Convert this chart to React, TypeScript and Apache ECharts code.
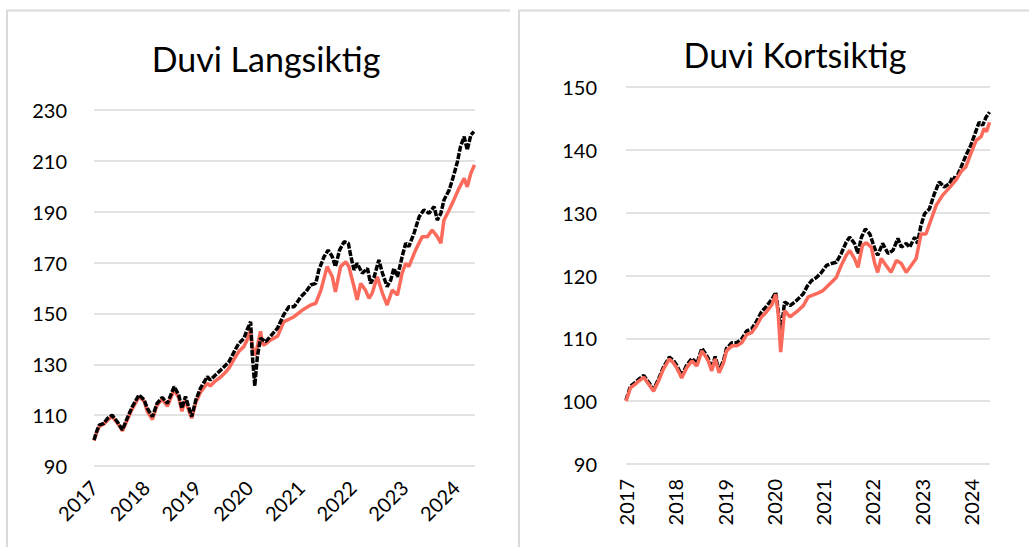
import React, { useEffect, useRef } from "react";
import * as echarts from "echarts";

// Decimal-year x values with index values.
const langBlack: [number, number][] = [
  [2017.0, 100.2], [2017.05, 103.5], [2017.1, 106.1], [2017.19, 106.8], [2017.26, 108.7], [2017.35, 110.0],
  [2017.45, 107.4], [2017.55, 104.2], [2017.64, 108.7], [2017.74, 113.3], [2017.87, 117.9], [2017.97, 116.0],
  [2018.03, 112.7], [2018.13, 109.4], [2018.22, 114.6], [2018.32, 117.0], [2018.42, 114.6], [2018.55, 121.2],
  [2018.64, 117.9], [2018.7, 112.7], [2018.77, 117.3], [2018.83, 113.3], [2018.89, 109.4], [2018.97, 116.0],
  [2019.06, 120.6], [2019.19, 125.1], [2019.25, 123.8], [2019.35, 125.8], [2019.45, 127.7], [2019.55, 129.7],
  [2019.61, 131.0], [2019.71, 134.9], [2019.8, 138.2], [2019.9, 140.2], [2019.96, 143.5], [2020.03, 146.7],
  [2020.06, 134.3], [2020.11, 121.5], [2020.16, 133.0], [2020.22, 140.2], [2020.32, 138.9], [2020.41, 140.9],
  [2020.55, 144.2], [2020.67, 149.5], [2020.77, 152.6], [2020.87, 152.6], [2021.0, 156.5], [2021.1, 158.5],
  [2021.19, 161.2], [2021.29, 161.8], [2021.35, 167.1], [2021.45, 172.3], [2021.53, 174.9], [2021.61, 172.3],
  [2021.67, 168.4], [2021.75, 174.9], [2021.84, 178.2], [2021.92, 177.6], [2021.97, 172.3], [2022.03, 167.1],
  [2022.09, 169.7], [2022.19, 165.8], [2022.29, 167.7], [2022.35, 161.8], [2022.42, 164.4], [2022.51, 171.0],
  [2022.58, 165.8], [2022.67, 160.5], [2022.74, 163.1], [2022.8, 167.7], [2022.87, 164.4], [2022.96, 172.3],
  [2023.03, 177.6], [2023.09, 176.3], [2023.19, 181.5], [2023.29, 188.0], [2023.38, 190.7], [2023.48, 189.4],
  [2023.58, 192.0], [2023.64, 186.7], [2023.71, 189.4], [2023.77, 194.6], [2023.87, 198.5], [2023.96, 204.4],
  [2024.03, 209.7], [2024.09, 215.6], [2024.16, 219.5], [2024.22, 214.3], [2024.29, 220.2], [2024.35, 221.5],
];

const langRed: [number, number][] = [
  [2017.0, 100.0], [2017.05, 103.0], [2017.1, 105.5], [2017.19, 106.5], [2017.26, 108.0], [2017.35, 109.5],
  [2017.45, 107.0], [2017.55, 103.8], [2017.64, 108.0], [2017.74, 112.5], [2017.87, 117.3], [2017.97, 115.5],
  [2018.03, 111.5], [2018.13, 108.3], [2018.22, 114.0], [2018.32, 116.3], [2018.42, 113.5], [2018.55, 120.0],
  [2018.64, 116.8], [2018.7, 111.5], [2018.77, 116.0], [2018.83, 112.0], [2018.89, 108.8], [2018.97, 115.0],
  [2019.06, 119.0], [2019.19, 122.5], [2019.25, 121.5], [2019.35, 123.5], [2019.45, 125.0], [2019.55, 127.0],
  [2019.61, 128.5], [2019.71, 132.0], [2019.8, 135.0], [2019.9, 137.0], [2019.96, 139.5], [2020.03, 143.5],
  [2020.06, 137.0], [2020.12, 133.5], [2020.17, 138.0], [2020.22, 143.0], [2020.27, 137.5], [2020.32, 138.0],
  [2020.41, 139.5], [2020.55, 141.0], [2020.67, 146.7], [2020.87, 148.7], [2021.03, 151.3], [2021.19, 153.3],
  [2021.29, 154.0], [2021.39, 159.2], [2021.51, 168.4], [2021.61, 164.4], [2021.67, 158.5], [2021.77, 168.4],
  [2021.87, 170.3], [2021.93, 168.4], [2022.03, 160.5], [2022.09, 155.3], [2022.16, 161.8], [2022.25, 159.2],
  [2022.32, 155.9], [2022.38, 157.9], [2022.48, 164.4], [2022.58, 157.9], [2022.67, 153.3], [2022.77, 159.2],
  [2022.87, 157.2], [2022.96, 165.8], [2023.03, 169.7], [2023.09, 168.4], [2023.22, 174.9], [2023.35, 180.2],
  [2023.45, 180.2], [2023.54, 182.8], [2023.64, 180.2], [2023.71, 177.6], [2023.77, 186.7], [2023.87, 190.7],
  [2023.96, 194.6], [2024.06, 199.2], [2024.16, 203.1], [2024.22, 199.8], [2024.29, 205.1], [2024.36, 208.4],
];

const kortBlack: [number, number][] = [
  [2017.0, 100.2], [2017.09, 102.4], [2017.19, 103.0], [2017.26, 103.5], [2017.36, 104.1], [2017.46, 103.0],
  [2017.56, 101.9], [2017.66, 103.5], [2017.76, 105.4], [2017.88, 107.0], [2017.96, 106.5], [2018.03, 105.7],
  [2018.13, 104.1], [2018.23, 105.7], [2018.34, 106.8], [2018.44, 106.0], [2018.54, 108.4], [2018.61, 107.6],
  [2018.67, 106.8], [2018.74, 105.2], [2018.81, 107.1], [2018.89, 104.9], [2018.98, 106.5], [2019.04, 108.4],
  [2019.15, 109.3], [2019.25, 109.3], [2019.35, 109.9], [2019.45, 111.2], [2019.55, 111.5], [2019.65, 112.7],
  [2019.75, 114.2], [2019.85, 115.1], [2019.96, 116.2], [2020.04, 117.3], [2020.09, 114.5], [2020.14, 110.5],
  [2020.22, 115.8], [2020.33, 115.2], [2020.46, 116.0], [2020.6, 117.1], [2020.68, 118.3], [2020.77, 119.2],
  [2020.87, 119.7], [2020.97, 120.5], [2021.07, 121.6], [2021.17, 121.9], [2021.27, 122.1], [2021.37, 123.5],
  [2021.47, 125.3], [2021.54, 126.1], [2021.64, 125.1], [2021.71, 123.5], [2021.78, 126.1], [2021.86, 127.4],
  [2021.95, 126.6], [2022.05, 124.3], [2022.11, 123.2], [2022.21, 125.1], [2022.32, 123.5], [2022.42, 124.0],
  [2022.52, 125.9], [2022.59, 124.5], [2022.69, 125.1], [2022.76, 124.5], [2022.86, 126.1], [2022.92, 125.1],
  [2022.98, 127.7], [2023.06, 129.8], [2023.16, 130.6], [2023.26, 133.0], [2023.36, 134.9], [2023.46, 134.1],
  [2023.57, 134.6], [2023.63, 135.7], [2023.7, 135.4], [2023.8, 137.2], [2023.9, 139.1], [2024.0, 140.7],
  [2024.11, 143.1], [2024.17, 144.4], [2024.24, 143.9], [2024.31, 145.2], [2024.38, 146.0],
];

const kortRed: [number, number][] = [
  [2017.0, 100.0], [2017.09, 102.1], [2017.19, 102.7], [2017.26, 103.2], [2017.36, 103.8], [2017.46, 102.7],
  [2017.56, 101.6], [2017.66, 103.2], [2017.76, 105.1], [2017.88, 106.7], [2017.96, 106.1], [2018.03, 105.3],
  [2018.13, 103.7], [2018.23, 105.3], [2018.34, 106.4], [2018.44, 105.6], [2018.54, 108.0], [2018.61, 107.2],
  [2018.67, 106.4], [2018.74, 104.8], [2018.81, 106.7], [2018.89, 104.5], [2018.98, 106.1], [2019.04, 108.0],
  [2019.15, 108.8], [2019.25, 108.8], [2019.35, 109.3], [2019.45, 110.6], [2019.55, 110.9], [2019.65, 112.0],
  [2019.75, 113.4], [2019.85, 114.2], [2019.96, 115.3], [2020.04, 117.0], [2020.09, 113.9], [2020.14, 107.8],
  [2020.22, 114.4], [2020.33, 113.4], [2020.46, 114.2], [2020.6, 115.2], [2020.7, 116.6], [2020.87, 117.1],
  [2021.0, 117.6], [2021.14, 118.7], [2021.27, 119.7], [2021.37, 121.6], [2021.47, 123.2], [2021.54, 124.0],
  [2021.64, 122.7], [2021.71, 121.3], [2021.8, 124.8], [2021.88, 125.2], [2021.98, 124.5], [2022.05, 121.9],
  [2022.11, 120.5], [2022.18, 122.7], [2022.28, 121.6], [2022.38, 120.5], [2022.49, 122.4], [2022.59, 121.9],
  [2022.69, 120.5], [2022.79, 121.6], [2022.89, 122.7], [2022.99, 126.6], [2023.09, 126.6], [2023.19, 128.8],
  [2023.3, 131.2], [2023.43, 132.8], [2023.56, 133.9], [2023.7, 135.2], [2023.8, 136.5], [2023.9, 137.3],
  [2024.0, 139.4], [2024.11, 141.5], [2024.21, 142.1], [2024.27, 143.4], [2024.32, 142.9], [2024.38, 144.4],
];

const titles = ["Duvi Langsiktig", "Duvi Kortsiktig"];
const langTicks = { min: 90, max: 230, interval: 20 };
const kortTicks = { min: 90, max: 150, interval: 10 };
const yearRange = { min: 2017, interval: 1 };

const FONT = "Lato, 'Open Sans', sans-serif";
const RED = "#FB6A5B";
const BLACK = "#000000";
const GRID = "#D9D9D9";

export default function App() {
  const ref = useRef<HTMLDivElement>(null);

  useEffect(() => {
    if (!ref.current) return;
    const chart = echarts.init(ref.current, undefined, { renderer: "svg" });

    const yearLabel = (v: number) => (Math.abs(v - Math.round(v)) < 1e-6 ? String(Math.round(v)) : "");

    const xBase = (gridIndex: number, max: number, rotate: number, margin: number) => ({
      type: "value",
      gridIndex,
      min: yearRange.min,
      max,
      interval: yearRange.interval,
      axisLine: { show: false },
      axisTick: { show: false },
      splitLine: { show: false },
      axisLabel: {
        rotate,
        margin,
        color: "#000",
        fontSize: 20,
        fontFamily: FONT,
        formatter: yearLabel,
        showMaxLabel: false,
      },
    });

    const yBase = (gridIndex: number, t: { min: number; max: number; interval: number }, margin: number) => ({
      type: "value",
      gridIndex,
      min: t.min,
      max: t.max,
      interval: t.interval,
      axisLine: { show: false },
      axisTick: { show: false },
      splitLine: { show: true, lineStyle: { color: GRID, width: 1.5 } },
      axisLabel: { margin, color: "#000", fontSize: 20, fontFamily: FONT },
    });

    const blackStyle = { color: BLACK, width: 3.5, type: [6, 1.5] as number[], cap: "butt" };
    const redStyle = { color: RED, width: 3.5, type: "solid" };

    chart.setOption({
      animation: false,
      backgroundColor: "#ffffff",
      grid: [
        { left: 94, top: 110, width: 381, height: 356 },
        { left: 626, top: 87, width: 364, height: 377 },
      ],
      xAxis: [xBase(0, 2024.37, 45, 18), xBase(1, 2024.39, 90, 15)],
      yAxis: [yBase(0, langTicks, 27), yBase(1, kortTicks, 29)],
      graphic: [
        {
          type: "polyline",
          shape: { points: [[7, 600], [7, 10.5], [510, 10.5]] },
          style: { stroke: GRID, lineWidth: 2, fill: "none" },
          z: 0,
        },
        {
          type: "polyline",
          shape: { points: [[519, 600], [519, 10.5], [1040, 10.5]] },
          style: { stroke: GRID, lineWidth: 2, fill: "none" },
          z: 0,
        },
        {
          type: "text",
          x: 266,
          y: 58,
          style: {
            text: titles[0],
            fill: "#000",
            fontSize: 34,
            fontFamily: FONT,
            align: "center",
            verticalAlign: "middle",
          },
        },
        {
          type: "text",
          x: 795,
          y: 54,
          style: {
            text: titles[1],
            fill: "#000",
            fontSize: 34,
            fontFamily: FONT,
            align: "center",
            verticalAlign: "middle",
          },
        },
      ],
      series: [
        { type: "line", xAxisIndex: 0, yAxisIndex: 0, data: langRed, showSymbol: false, symbol: "none", lineStyle: redStyle, z: 2 },
        { type: "line", xAxisIndex: 0, yAxisIndex: 0, data: langBlack, showSymbol: false, symbol: "none", lineStyle: blackStyle, z: 3 },
        { type: "line", xAxisIndex: 1, yAxisIndex: 1, data: kortBlack, showSymbol: false, symbol: "none", lineStyle: blackStyle, z: 2 },
        { type: "line", xAxisIndex: 1, yAxisIndex: 1, data: kortRed, showSymbol: false, symbol: "none", lineStyle: redStyle, z: 3 },
      ],
    });

    return () => chart.dispose();
  }, []);

  return (
    <div
      ref={ref}
      style={{ position: "fixed", left: 0, top: 0, width: 1029, height: 547, background: "#fff" }}
    />
  );
}
